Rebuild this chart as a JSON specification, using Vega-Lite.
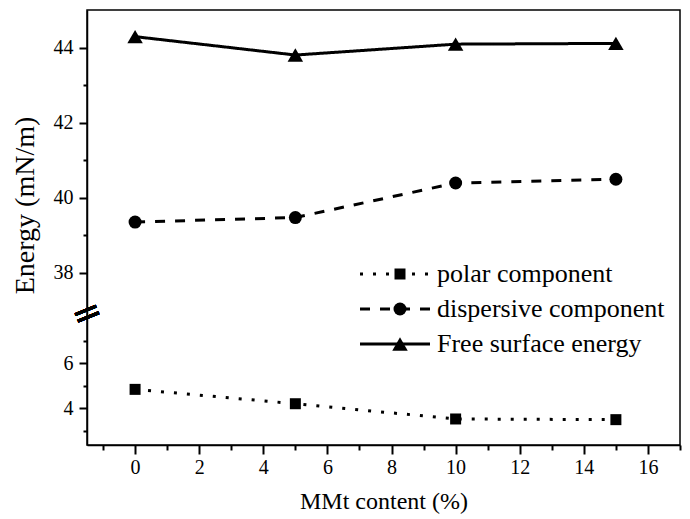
{
  "$schema": "https://vega.github.io/schema/vega-lite/v6.json",
  "width": 593,
  "height": 435,
  "autosize": "none",
  "padding": {"left": 87, "top": 10, "right": 10, "bottom": 74},
  "background": "white",
  "config": {
    "view": {"stroke": "black", "strokeWidth": 1.5},
    "font": "Liberation Serif",
    "axis": {
      "domainColor": "black", "domainWidth": 1.5,
      "tickColor": "black", "tickWidth": 2,
      "labelColor": "black", "labelFont": "Liberation Serif", "labelFontSize": 20,
      "titleColor": "black", "titleFont": "Liberation Serif", "titleFontWeight": "normal",
      "grid": false
    }
  },
  "data": {
    "values": [
      {"mmt": 0, "energy": 4.84, "series": "polar component"},
      {"mmt": 5, "energy": 4.2, "series": "polar component"},
      {"mmt": 10, "energy": 3.52, "series": "polar component"},
      {"mmt": 15, "energy": 3.49, "series": "polar component"},
      {"mmt": 0, "energy": 39.35, "series": "dispersive component"},
      {"mmt": 5, "energy": 39.47, "series": "dispersive component"},
      {"mmt": 10, "energy": 40.39, "series": "dispersive component"},
      {"mmt": 15, "energy": 40.49, "series": "dispersive component"},
      {"mmt": 0, "energy": 44.29, "series": "Free surface energy"},
      {"mmt": 5, "energy": 43.8, "series": "Free surface energy"},
      {"mmt": 10, "energy": 44.09, "series": "Free surface energy"},
      {"mmt": 15, "energy": 44.11, "series": "Free surface energy"}
    ]
  },
  "encoding": {
    "x": {
      "field": "mmt", "type": "quantitative",
      "scale": {"domain": [-1.5, 17], "nice": false, "zero": false},
      "axis": {
        "title": "MMt content (%)", "titleFontSize": 24, "titlePadding": 12,
        "values": [-1, 0, 1, 2, 3, 4, 5, 6, 7, 8, 9, 10, 11, 12, 13, 14, 15, 16, 17],
        "labelExpr": "datum.value % 2 === 0 ? datum.label : ''",
        "tickSize": {"condition": {"test": "datum.value % 2 === 0", "value": 9}, "value": 5},
        "labelPadding": 3
      }
    },
    "y": {
      "field": "energy", "type": "quantitative",
      "scale": {"domain": [2.36, 8.2, 36.9, 45], "range": [435, 304, 304, 0], "nice": false, "zero": false},
      "axis": {
        "title": "Energy (mN/m)", "titleFontSize": 28, "titlePadding": 14, "titleY": 195,
        "values": [3, 4, 5, 6, 7, 38, 39, 40, 41, 42, 43, 44],
        "labelExpr": "datum.value % 2 === 0 ? datum.label : ''",
        "tickSize": {"condition": {"test": "datum.value % 2 === 0", "value": 8}, "value": 4},
        "labelPadding": 6
      }
    }
  },
  "layer": [
    {
      "mark": {"type": "line", "color": "black", "strokeWidth": 3},
      "encoding": {
        "strokeDash": {
          "field": "series", "type": "nominal",
          "scale": {"domain": ["polar component", "dispersive component", "Free surface energy", " "], "range": [[3, 10], [10, 10], [1, 0], [1, 0]]},
          "legend": {
            "title": null,
            "orient": "none",
            "legendX": 295,
            "legendY": 251,
            "padding": 0,
            "values": ["polar component", "dispersive component", "Free surface energy"],
            "labelFont": "Liberation Serif",
            "labelFontSize": 26,
            "labelColor": "black",
            "labelLimit": 0,
            "labelOffset": 29,
            "rowPadding": 9,
            "symbolType": "M-7,0H7",
            "symbolSize": 100,
            "symbolStrokeWidth": 3,
            "symbolStrokeColor": "black",
            "symbolFillColor": "transparent",
            "symbolOpacity": 1
          }
        }
      }
    },
    {
      "mark": {"type": "point", "filled": true, "color": "black", "opacity": 1},
      "encoding": {
        "shape": {
          "field": "series", "type": "nominal",
          "scale": {"domain": ["polar component", "dispersive component", "Free surface energy"], "range": ["square", "circle", "triangle-up"]},
          "legend": {
            "title": null,
            "orient": "none",
            "legendX": 300,
            "legendY": 251,
            "padding": 0,
            "labelFont": "Liberation Serif",
            "labelFontSize": 26,
            "labelExpr": "''",
            "labelLimit": 0,
            "rowPadding": 9,
            "symbolFillColor": "black",
            "symbolStrokeColor": "black",
            "symbolOpacity": 1
          }
        },
        "size": {
          "field": "series", "type": "nominal",
          "scale": {"type": "ordinal", "domain": ["polar component", "dispersive component", "Free surface energy"], "range": [121, 169, 240]},
          "legend": {
            "title": null,
            "orient": "none",
            "legendX": 300,
            "legendY": 251,
            "padding": 0,
            "labelFont": "Liberation Serif",
            "labelFontSize": 26,
            "labelExpr": "''",
            "labelLimit": 0,
            "rowPadding": 9,
            "symbolFillColor": "black",
            "symbolStrokeColor": "black",
            "symbolOpacity": 1
          }
        }
      }
    },
    {
      "mark": {"type": "text", "text": "=", "font": "DejaVu Sans", "fontSize": 36, "angle": -22, "color": "black", "baseline": "middle", "align": "center"},
      "encoding": {
        "x": {"datum": -1.5, "type": "quantitative"},
        "y": {"datum": 8.2, "type": "quantitative"}
      }
    }
  ]
}
